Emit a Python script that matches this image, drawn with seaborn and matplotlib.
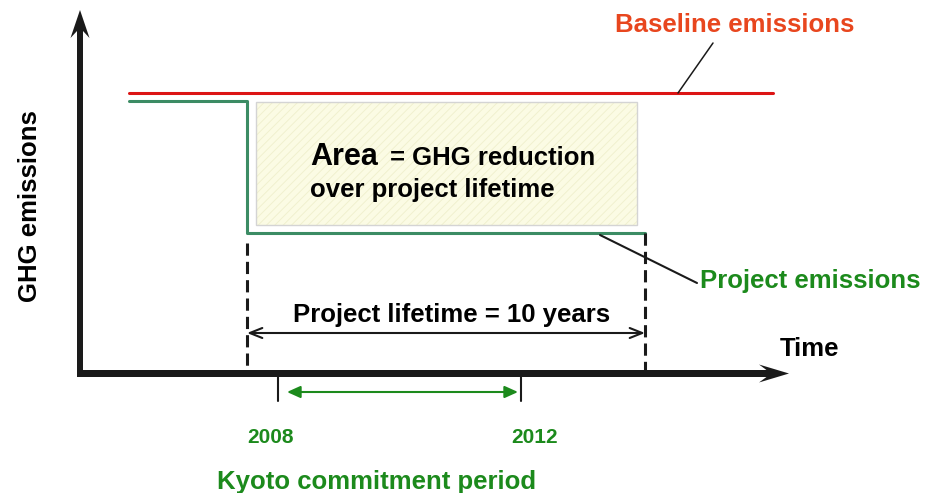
"""
Baseline vs project emissions schematic (CDM / Kyoto)
"""
import matplotlib
matplotlib.use("Agg")
import matplotlib.pyplot as plt
from matplotlib.patches import Rectangle
import seaborn as sns

# schematic units: x = time, y = emission level (1 unit = 1 px)
time_start = 129
project_start = 247
project_end = 645
time_end = 773

baseline_level = 400
project_before = 392
project_after = 260

baseline_t = [time_start, time_end]
baseline_e = [baseline_level, baseline_level]
project_t = [time_start, project_start, project_start, project_end]
project_e = [project_before, project_before, project_after, project_after]

kyoto_years = ["2008", "2012"]
kyoto_t = [278, 521]
lifetime_years = 10

RED = "#dc1414"
RED_TXT = "#e8461e"
GREEN_LINE = "#3c8c64"
GREEN_TXT = "#1c8a1c"

sns.set_theme(style="white")
plt.rcParams["font.family"] = ["Liberation Sans", "DejaVu Sans"]
plt.rcParams["text.color"] = "black"
plt.rcParams["hatch.linewidth"] = 0.6

fig = plt.figure(figsize=(9.27, 4.93), dpi=100)
ax = fig.add_axes([0, 0, 1, 1])
ax.set_xlim(0, 927)
ax.set_ylim(0, 493)
ax.axis("off")

# reduction area box
x0, y0 = project_start + 9, project_after + 8
w, h = project_end - 8 - x0, project_before - 1 - y0
ax.add_patch(Rectangle((x0, y0), w, h, facecolor="#fbfbe4", edgecolor="none", zorder=1))
ax.add_patch(Rectangle((x0, y0), w, h, fill=False, hatch="////", edgecolor="#efefcc", lw=0, zorder=1))
ax.add_patch(Rectangle((x0, y0), w, h, fill=False, edgecolor="#d4d4d4", lw=1, zorder=2))

# emission lines
sns.lineplot(x=baseline_t, y=baseline_e, sort=False, estimator=None, color=RED, lw=2.2, ax=ax)
sns.lineplot(x=project_t, y=project_e, sort=False, estimator=None, color=GREEN_LINE, lw=2.2, ax=ax)

# axes arrows
ax.arrow(80, 116, 0, 367, width=6, head_width=19, head_length=28, overhang=0.25,
         length_includes_head=True, fc="k", ec="k", lw=0, zorder=5)
ax.arrow(77, 119.5, 712, 0, width=7, head_width=18, head_length=30, overhang=0.25,
         length_includes_head=True, fc="k", ec="k", lw=0, zorder=5)

# dashed lifetime boundaries
ax.plot([project_start, project_start], [250, 123], color="k", lw=2.2, ls=(0, (4, 2)))
ax.plot([project_end, project_end], [project_after, 123], color="k", lw=2.2, ls=(0, (4, 2)))

# lifetime arrow
ax.annotate("", xy=(project_start, 160), xytext=(project_end, 160),
            arrowprops=dict(arrowstyle="<->,head_length=0.45,head_width=0.18", lw=1.5,
                            color="k", shrinkA=0, shrinkB=0, mutation_scale=20))
ax.text(293, 171, f"Project lifetime = {lifetime_years} years", fontsize=18.5,
        fontweight="bold", color="black", ha="left", va="baseline")

# Kyoto period
for t, lab in zip(kyoto_t, kyoto_years):
    ax.plot([t, t], [119, 92], color="k", lw=1.5)
    ax.text(t - 7 if lab == "2008" else t + 14, 50, lab, fontsize=15, fontweight="bold",
            color=GREEN_TXT, ha="center", va="baseline")
ax.annotate("", xy=(kyoto_t[0] + 9, 101), xytext=(kyoto_t[1] - 3, 101),
            arrowprops=dict(arrowstyle="<|-|>,head_length=0.4,head_width=0.18", lw=1.5,
                            color=GREEN_TXT, shrinkA=0, shrinkB=0, mutation_scale=20))
ax.text(217, 4, "Kyoto commitment period", fontsize=18.5, fontweight="bold",
        color=GREEN_TXT, ha="left", va="baseline")

# labels
ax.text(30, 287, "GHG emissions", rotation=90, fontsize=18.5, fontweight="bold",
        color="black", ha="center", va="center")
ax.text(780, 137, "Time", fontsize=18.5, fontweight="bold", color="black",
        ha="left", va="baseline")

ax.text(615, 461, "Baseline emissions", fontsize=18.5, fontweight="bold",
        color=RED_TXT, ha="left", va="baseline")
ax.plot([678, 713], [baseline_level, 450], color="k", lw=1.1)

ax.text(700, 205, "Project emissions", fontsize=18.5, fontweight="bold",
        color=GREEN_TXT, ha="left", va="baseline")
ax.plot([600, 697], [project_after - 2, 210], color="k", lw=1.5)

ax.text(310, 328, "Area", fontsize=22, fontweight="bold", color="black",
        ha="left", va="baseline")
ax.text(390, 328, "= GHG reduction", fontsize=18.5, fontweight="bold", color="black",
        ha="left", va="baseline")
ax.text(310, 296, "over project lifetime", fontsize=18.5, fontweight="bold",
        color="black", ha="left", va="baseline")

fig.savefig("out.png", dpi=100)
